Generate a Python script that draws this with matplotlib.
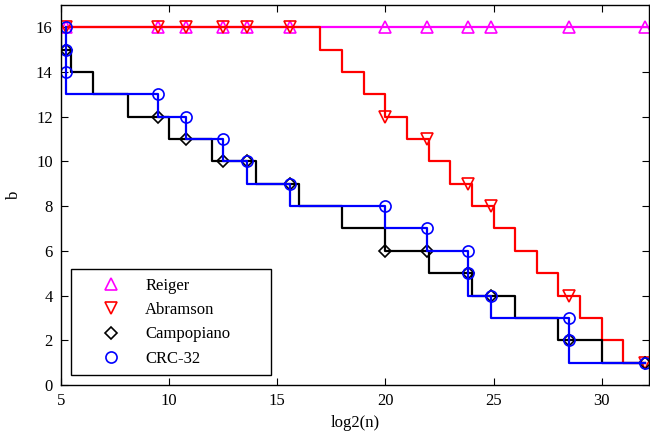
import matplotlib
import matplotlib.pyplot as plt

matplotlib.use("Agg")

plt.rcParams["font.family"] = ["Liberation Serif", "DejaVu Serif"]
plt.rcParams["mathtext.fontset"] = "stix"

# ---------------------------------------------------------------------------
# Data
# ---------------------------------------------------------------------------

# common marker positions, log2(n)
mark_x = [5.25, 9.5, 10.77, 12.47, 13.58, 15.6, 20.0, 21.94, 23.8, 24.9, 28.5, 32.0]

reiger_y = [16, 16, 16, 16, 16, 16, 16, 16, 16, 16, 16, 16]
abramson_y = [16, 16, 16, 16, 16, 16, 12, 11, 9, 8, 4, 1]
campo_y = [15, 12, 11, 10, 10, 9, 6, 6, 5, 4, 2, 1]

crc_x = [5.25, 5.25, 5.25, 9.5, 10.77, 12.47, 13.58, 15.6, 20.0, 21.94,
         23.8, 23.8, 24.9, 28.5, 28.5, 32.0]
crc_y = [16, 15, 14, 13, 12, 11, 10, 9, 8, 7, 6, 5, 4, 3, 2, 1]

# stair curves (step edges, level holds until the next edge)
abramson_edges = [5.25, 17, 18, 19, 20, 21, 22, 23, 24, 25, 26, 27, 28, 29, 30, 31, 32]
abramson_levels = [16, 15, 14, 13, 12, 11, 10, 9, 8, 7, 6, 5, 4, 3, 2, 1, 1]

campo_edges = [5.0, 5.0, 5.46, 6.48, 8.12, 10, 12, 14, 16, 18, 20, 22, 24, 26, 28, 30, 32]
campo_levels = [16, 15, 14, 13, 12, 11, 10, 9, 8, 7, 6, 5, 4, 3, 2, 1, 1]

# ---------------------------------------------------------------------------
# Plot
# ---------------------------------------------------------------------------

fig = plt.figure(figsize=(6.5, 4.41), dpi=100)
ax = fig.add_axes([0.0938, 0.127, 0.905, 0.862])

lw = 1.6
ms = 8
mew = 1.2

ax.plot([mark_x[0], 32.3], [16, 16], color="#ff00ff", lw=lw)
ax.plot(mark_x, reiger_y, ls="none", marker="^", ms=ms, mew=mew,
        mfc="none", mec="#ff00ff", label="Reiger")

ax.step(abramson_edges, abramson_levels, where="post", color="#ff0000", lw=lw)
ax.plot(mark_x, abramson_y, ls="none", marker="v", ms=ms, mew=mew,
        mfc="none", mec="#ff0000", label="Abramson")

ax.step(campo_edges, campo_levels, where="post", color="black", lw=lw)
ax.plot(mark_x, campo_y, ls="none", marker="D", ms=ms - 1.5, mew=mew,
        mfc="none", mec="black", label="Campopiano")

ax.step(crc_x, crc_y, where="pre", color="#0000ff", lw=lw)
ax.plot(crc_x, crc_y, ls="none", marker="o", ms=ms, mew=mew,
        mfc="none", mec="#0000ff", label="CRC-32")

ax.set_xlim(5, 32.2)
ax.set_ylim(0, 17)
ax.set_xticks([5, 10, 15, 20, 25, 30])
ax.set_yticks(range(0, 17, 2))
ax.tick_params(direction="in", top=True, right=True, length=5,
               labelsize=12, pad=6)
for s in ax.spines.values():
    s.set_linewidth(1.0)

ax.set_xlabel("log2(n)", fontsize=12, labelpad=4)
ax.set_ylabel("b", fontsize=12, labelpad=10)

leg = ax.legend(loc="lower left", bbox_to_anchor=(0.017, 0.026, 0.34, 0.3),
                mode="expand", borderaxespad=0, fontsize=12, frameon=True,
                fancybox=False, framealpha=1, edgecolor="black",
                handlelength=3.8, handletextpad=0.15, labelspacing=0.5,
                borderpad=0.5)
leg.get_frame().set_linewidth(1.0)

fig.savefig("out.png", dpi=100)
